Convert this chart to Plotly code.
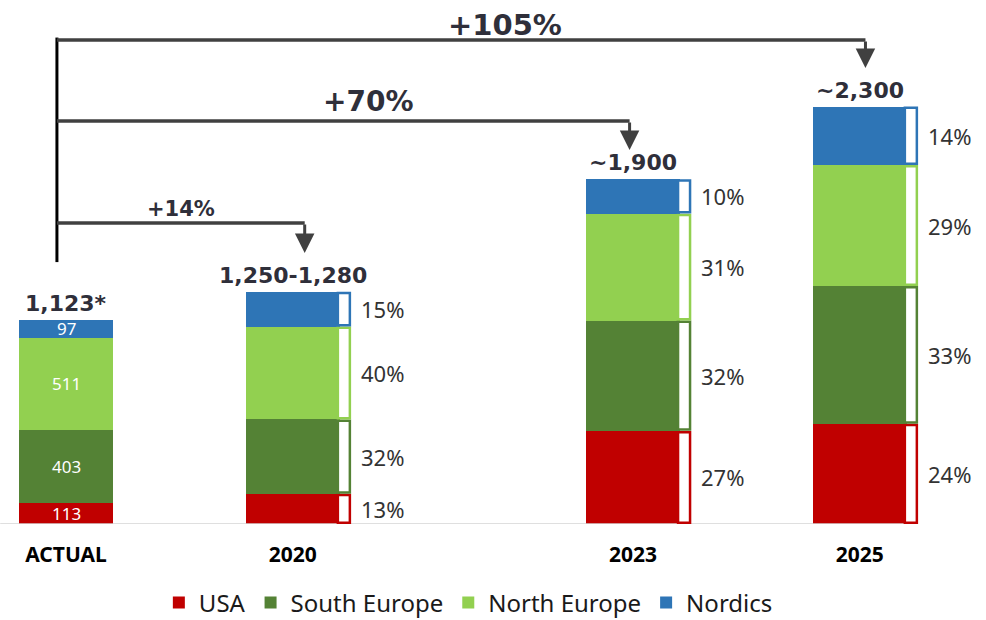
import plotly.graph_objects as go

# ---- data ----
periods = [2018, 2020, 2023, 2025]
period_labels = ["ACTUAL", "2020", "2023", "2025"]
total_labels = ["1,123*", "1,250-1,280", "~1,900", "~2,300"]

regions = ["USA", "South Europe", "North Europe", "Nordics"]
region_colors = ["#C00000", "#548235", "#92D050", "#2E75B6"]

# actual volumes by region (USA, South Europe, North Europe, Nordics)
actual = [113, 403, 511, 97]

# forecast totals and regional shares (%) for 2020, 2023, 2025
forecast_totals = [1280, 1900, 2300]
share_usa = [13, 27, 24]
share_south = [32, 32, 33]
share_north = [40, 31, 29]
share_nordics = [15, 10, 14]

growth_labels = ["+14%", "+70%", "+105%"]
growth_targets = [2020, 2023, 2025]

# ---- derived segment values ----
shares = [share_usa, share_south, share_north, share_nordics]
segments = []
for i in range(len(regions)):
    vals = [actual[i]] + [t * s / 100 for t, s in zip(forecast_totals, shares[i])]
    segments.append(vals)
totals = [sum(actual)] + forecast_totals

BAR_W = 0.83
FONT = "Noto Sans"
BOLD_FONT = "DejaVu Sans"
DARK = "#2f2f3a"

fig = go.Figure()
for name, color, vals in zip(regions, region_colors, segments):
    fig.add_trace(go.Bar(
        x=periods, y=vals, name=name, width=BAR_W,
        marker=dict(color=color, line=dict(width=0)),
        hoverinfo="skip",
    ))

shapes = []
annotations = []

# baseline
shapes.append(dict(type="line", xref="x", yref="y", x0=2017.42, x1=2025.5, y0=0, y1=0,
                   line=dict(color="#d4d4d4", width=1.5), layer="above"))

# white values inside the ACTUAL column
base = 0
for i in range(len(regions)):
    v = segments[i][0]
    annotations.append(dict(x=periods[0], y=base + v / 2, xref="x", yref="y",
                            text=str(v), showarrow=False,
                            font=dict(family=FONT, size=17, color="white")))
    base += v

# brackets and share labels next to each forecast column
inset = 7
for j in range(1, len(periods)):
    base = 0
    for i in range(len(regions)):
        v = segments[i][j]
        edge = periods[j] + BAR_W / 2
        shapes.append(dict(type="rect", xref="x", yref="y", xsizemode="pixel", xanchor=edge,
                           x0=-2, x1=10, y0=base + inset, y1=base + v - inset,
                           line=dict(color=region_colors[i], width=2.5), fillcolor="white",
                           layer="above"))
        annotations.append(dict(x=edge, y=base + v / 2, xref="x", yref="y", xanchor="left",
                                xshift=19, text=f"{shares[i][j - 1]}%", showarrow=False,
                                font=dict(family=FONT, size=22, color="#333333")))
        base += v

# totals above each column
for p, t, lab in zip(periods, totals, total_labels):
    annotations.append(dict(x=p, y=t, xref="x", yref="y", yanchor="bottom", yshift=2,
                            text=f"<b>{lab}</b>", showarrow=False,
                            font=dict(family=BOLD_FONT, size=22, color=DARK)))

# growth arrows from the ACTUAL column
stem_x = 2017.92
shapes.append(dict(type="line", xref="x", yref="y", x0=stem_x, x1=stem_x, y0=1443, y1=2680,
                   line=dict(color="#000000", width=3)))
line_levels = [1658, 2220, 2667]
tip_levels = [1493, 2061, 2512]
arrow_offsets = [0.105, -0.03, 0.05]
label_x = [2019.01, 2020.66, 2021.87]
label_sizes = [21, 28, 29]
label_lift = [14, 20, 15]
for lab, tgt, ly, ty, off, lx, fs, lift in zip(growth_labels, growth_targets, line_levels,
                                               tip_levels, arrow_offsets, label_x,
                                               label_sizes, label_lift):
    ax_x = tgt + off
    shapes.append(dict(type="line", xref="x", yref="y", x0=stem_x, x1=ax_x, y0=ly, y1=ly,
                       line=dict(color="#404040", width=3.5)))
    annotations.append(dict(x=ax_x, y=ty, xref="x", yref="y", ax=ax_x, ay=ly,
                            axref="x", ayref="y", text="", showarrow=True,
                            arrowhead=2, arrowsize=1.3, arrowwidth=3, arrowcolor="#404040"))
    annotations.append(dict(x=lx, y=ly, xref="x", yref="y", yanchor="middle", yshift=lift,
                            text=f"<b>{lab}</b>", showarrow=False,
                            font=dict(family=BOLD_FONT, size=fs, color=DARK)))

fig.update_layout(
    width=986, height=620,
    margin=dict(l=0, r=0, t=0, b=96, autoexpand=False),
    paper_bgcolor="white", plot_bgcolor="white",
    barmode="stack",
    showlegend=True,
    legend=dict(orientation="h", x=0.475, xanchor="center", y=-0.1508, yanchor="middle",
                traceorder="normal", font=dict(family=FONT, size=24, color="#1a1a1a"),
                itemwidth=30),
    xaxis=dict(range=[2017.418, 2026.113], tickvals=periods,
               ticktext=[f"<b>{t}</b>" for t in period_labels],
               tickfont=dict(family=FONT, size=21, color="#000000"),
               showgrid=False, zeroline=False, showline=False, ticks="",
               ticklabelstandoff=16, automargin=False),
    yaxis=dict(range=[0, 2887], visible=False, showgrid=False, automargin=False),
    shapes=shapes,
    annotations=annotations,
)

fig.write_html("out.html")
